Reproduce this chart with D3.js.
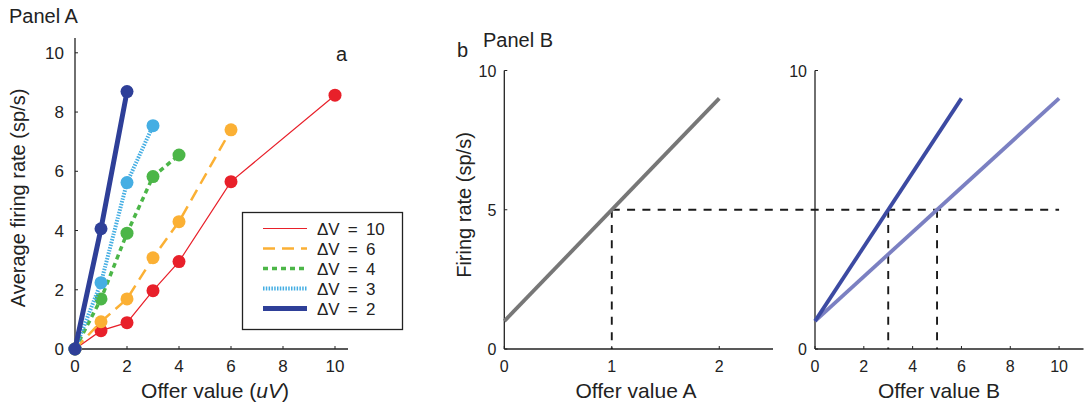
<!DOCTYPE html>
<html><head><meta charset="utf-8">
<script src="https://cdn.jsdelivr.net/npm/d3@7"></script>
<style>body{margin:0;background:#fff}svg{display:block}text{font-family:"Liberation Sans",Arial,sans-serif;fill:#222}</style>
</head><body><svg id="c" width="1084" height="405"></svg>
<script>
// Panel A data
const xA10 = [0,1,2,3,4,6,10], yA10 = [0,0.62,0.89,1.97,2.95,5.65,8.57];
const xA6 = [0,1,2,3,4,6], yA6 = [0,0.92,1.69,3.08,4.30,7.40];
const xA4 = [0,1,2,3,4], yA4 = [0,1.69,3.91,5.82,6.55];
const xA3 = [0,1,2,3], yA3 = [0,2.24,5.62,7.54];
const xA2 = [0,1,2], yA2 = [0,4.06,8.69];
const legendLabels = ["ΔV = 10","ΔV = 6","ΔV = 4","ΔV = 3","ΔV = 2"];
const ticksA = [0,2,4,6,8,10];
// Panel B data
const xBA = [0,2], yBA = [1,9];
const xBB1 = [0,6], yBB1 = [1,9];
const xBB2 = [0,10], yBB2 = [1,9];
const ticksBAx = [0,1,2], ticksBBx = [0,2,4,6,8,10];
const ticksBAy = [0,5,10], ticksBBy = [0,10];
const refRate = 5, refA = 1, refB = [3,5];

const svg = d3.select("#c");

// ---------- Panel A ----------
const xa = d3.scaleLinear().domain([0,10.5]).range([75,348]);
const ya = d3.scaleLinear().domain([0,10.5]).range([349,38]);
const gA = svg.append("g");
gA.append("line").attr("x1",xa(0)).attr("x2",xa(10.5)).attr("y1",ya(0)).attr("y2",ya(0)).attr("stroke","#222").attr("stroke-width",1.3);
gA.append("line").attr("x1",xa(0)).attr("x2",xa(0)).attr("y1",ya(0)).attr("y2",ya(10.5)).attr("stroke","#222").attr("stroke-width",1.3);
ticksA.forEach(t=>{
  gA.append("line").attr("x1",xa(t)).attr("x2",xa(t)).attr("y1",ya(0)).attr("y2",ya(0)-3).attr("stroke","#222");
  gA.append("line").attr("x1",xa(0)).attr("x2",xa(0)+3).attr("y1",ya(t)).attr("y2",ya(t)).attr("stroke","#222");
  gA.append("text").attr("x",xa(t)).attr("y",ya(0)+23).attr("text-anchor","middle").attr("font-size",17).text(t);
  gA.append("text").attr("x",xa(0)-11).attr("y",ya(t)+6).attr("text-anchor","end").attr("font-size",17).text(t);
});
const seriesA = [
  {x:xA2,y:yA2,c:"#2e3f98",w:5,d:null},
  {x:xA3,y:yA3,c:"#45aee3",w:4,d:"1.5,1.3"},
  {x:xA4,y:yA4,c:"#4cb648",w:3.5,d:"5,4"},
  {x:xA6,y:yA6,c:"#fbb034",w:2.5,d:"12,7"},
  {x:xA10,y:yA10,c:"#e8202a",w:1.2,d:null}
];
const lineA = d3.line().x(d=>xa(d[0])).y(d=>ya(d[1]));
seriesA.slice().reverse().forEach(s=>{
  const pts = s.x.map((v,i)=>[v,s.y[i]]);
  gA.append("path").attr("d",lineA(pts)).attr("fill","none").attr("stroke",s.c).attr("stroke-width",s.w).attr("stroke-dasharray",s.d);
  gA.selectAll(null).data(pts).enter().append("circle").attr("cx",d=>xa(d[0])).attr("cy",d=>ya(d[1])).attr("r",6.5).attr("fill",s.c);
});
// legend
const lg = gA.append("g");
lg.append("rect").attr("x",242.5).attr("y",212.5).attr("width",160).attr("height",117).attr("fill","#fff").attr("stroke","#222").attr("stroke-width",1.3);
const legS = seriesA.slice().reverse();
legendLabels.forEach((l,i)=>{
  const yy = 228.5 + i*20;
  const s = legS[i];
  lg.append("line").attr("x1",263).attr("x2",307).attr("y1",yy).attr("y2",yy).attr("stroke",s.c).attr("stroke-width",s.w).attr("stroke-dasharray",s.d);
  lg.append("text").attr("x",317).attr("y",yy+6).attr("font-size",17).attr("xml:space","preserve").text(l.replace(/ = /," \u2009=\u2009 "));
});
gA.append("text").attr("x",9).attr("y",23).attr("font-size",20).text("Panel A");
gA.append("text").attr("x",336).attr("y",61).attr("font-size",20).text("a");
gA.append("text").attr("transform","translate(25,198) rotate(-90)").attr("text-anchor","middle").attr("font-size",20).text("Average firing rate (sp/s)");
const tA = gA.append("text").attr("x",215).attr("y",398).attr("text-anchor","middle").attr("font-size",21);
tA.append("tspan").text("Offer value (");
tA.append("tspan").attr("font-style","italic").text("uV");
tA.append("tspan").text(")");

// ---------- Panel B ----------
const yb = d3.scaleLinear().domain([0,10]).range([349,70.5]);
const xb1 = d3.scaleLinear().domain([0,2.5]).range([504.3,773]);
const xb2 = d3.scaleLinear().domain([0,11]).range([815,1083.5]);
const gB = svg.append("g");
function axes(xs, xt, yt, dom){
  gB.append("line").attr("x1",xs(0)).attr("x2",xs(dom)).attr("y1",yb(0)).attr("y2",yb(0)).attr("stroke","#222").attr("stroke-width",1.3);
  gB.append("line").attr("x1",xs(0)).attr("x2",xs(0)).attr("y1",yb(0)).attr("y2",yb(10)).attr("stroke","#222").attr("stroke-width",1.3);
  xt.forEach(t=>{
    gB.append("line").attr("x1",xs(t)).attr("x2",xs(t)).attr("y1",yb(0)).attr("y2",yb(0)-3).attr("stroke","#222");
    gB.append("text").attr("x",xs(t)).attr("y",yb(0)+23).attr("text-anchor","middle").attr("font-size",16).text(t);
  });
  yt.forEach(t=>{
    gB.append("line").attr("x1",xs(0)).attr("x2",xs(0)+3).attr("y1",yb(t)).attr("y2",yb(t)).attr("stroke","#222");
    gB.append("text").attr("x",xs(0)-8).attr("y",yb(t)+6).attr("text-anchor","end").attr("font-size",16).text(t);
  });
}
axes(xb1, ticksBAx, ticksBAy, 2.5);
axes(xb2, ticksBBx, ticksBBy, 11);
const dash = "8,7.3";
// dashed reference lines
gB.append("line").attr("x1",xb1(refA)).attr("x2",xb2(10)).attr("y1",yb(refRate)).attr("y2",yb(refRate)).attr("stroke","#1a1a1a").attr("stroke-width",1.9).attr("stroke-dasharray",dash);
gB.append("line").attr("x1",xb1(refA)).attr("x2",xb1(refA)).attr("y1",yb(refRate)).attr("y2",yb(0)).attr("stroke","#1a1a1a").attr("stroke-width",1.9).attr("stroke-dasharray",dash);
refB.forEach(v=>{
  gB.append("line").attr("x1",xb2(v)).attr("x2",xb2(v)).attr("y1",yb(refRate)).attr("y2",yb(0)).attr("stroke","#1a1a1a").attr("stroke-width",1.9).attr("stroke-dasharray",dash);
});
const l1 = d3.line().x(d=>xb1(d[0])).y(d=>yb(d[1]));
const l2 = d3.line().x(d=>xb2(d[0])).y(d=>yb(d[1]));
gB.append("path").attr("d",l1(xBA.map((v,i)=>[v,yBA[i]]))).attr("fill","none").attr("stroke","#777").attr("stroke-width",3.8);
gB.append("path").attr("d",l2(xBB2.map((v,i)=>[v,yBB2[i]]))).attr("fill","none").attr("stroke","#7b80c2").attr("stroke-width",3.8);
gB.append("path").attr("d",l2(xBB1.map((v,i)=>[v,yBB1[i]]))).attr("fill","none").attr("stroke","#3c4aa2").attr("stroke-width",3.8);
gB.append("text").attr("x",457).attr("y",57).attr("font-size",20).text("b");
gB.append("text").attr("x",483).attr("y",47).attr("font-size",20).text("Panel B");
gB.append("text").attr("transform","translate(471,205) rotate(-90)").attr("text-anchor","middle").attr("font-size",20).text("Firing rate (sp/s)");
gB.append("text").attr("x",636).attr("y",398).attr("text-anchor","middle").attr("font-size",21).text("Offer value A");
gB.append("text").attr("x",939).attr("y",398).attr("text-anchor","middle").attr("font-size",21).text("Offer value B");
</script></body></html>
